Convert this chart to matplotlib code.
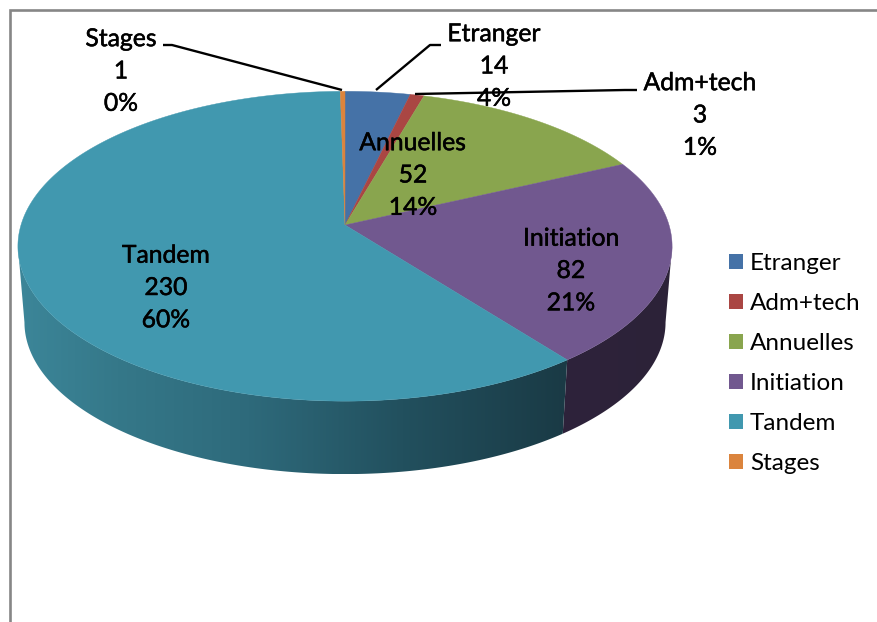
import numpy as np
import matplotlib
matplotlib.use("Agg")
import matplotlib.pyplot as plt
import matplotlib.patheffects as pe
from matplotlib.patches import Patch, Polygon
from matplotlib.colors import LinearSegmentedColormap

names = ["Etranger", "Adm+tech", "Annuelles", "Initiation", "Tandem", "Stages"]
values = [14, 3, 52, 82, 230, 1]
percents = [4, 1, 14, 21, 60, 0]
colors = ["#4572a7", "#aa4643", "#89a54e", "#71588f", "#4198af", "#db843d"]
side_stops = {
    "Initiation": [(0.0, "#2e233b"), (1.0, "#2c2238")],
    "Tandem": [(0.0, "#3c8699"), (0.18, "#357889"), (0.42, "#2e6a7b"), (0.7, "#22505e"), (1.0, "#1a3a45")],
}

plt.rcParams["font.family"] = ["Lato", "DejaVu Sans"]
W, H = 877, 622
fig = plt.figure(figsize=(W / 100, H / 100), dpi=100, facecolor="white")
ax = fig.add_axes([0, 0, 1, 1])

# perspective projection of the pie disc
CX, CY, A, B, K = 345.0, 225.0, 324.0, 152.0, 0.137
DROP, SHRINK = 76.5, 0.98


def project(theta, lower=False):
    x, y = np.sin(theta), np.cos(theta)
    w = 1 + K * y
    s = SHRINK if lower else 1.0
    return CX + s * A * x / w, CY + (DROP if lower else 0) - s * B * y / w


edges = np.cumsum([0] + values) / sum(values) * 2 * np.pi
vis_from = np.arccos(-K)
vis_to = 2 * np.pi - vis_from

# side walls: only the part between the two silhouette angles shows
for i, name in enumerate(names):
    if name not in side_stops:
        continue
    t = np.linspace(max(edges[i], vis_from), min(edges[i + 1], vis_to), 400)
    x1, y1 = project(t)
    x2, y2 = project(t[::-1], lower=True)
    px, py = np.r_[x1, x2], np.r_[y1, y2]
    cmap = LinearSegmentedColormap.from_list(name, side_stops[name])
    grad = np.linspace(0, 1, 256)[None, :]
    im = ax.imshow(grad, cmap=cmap, aspect="auto", zorder=2, interpolation="bilinear",
                   extent=(px.min(), px.max(), py.max(), py.min()))
    im.set_clip_path(Polygon(np.c_[px, py], closed=True, transform=ax.transData))

# top faces
for i, col in enumerate(colors):
    t = np.linspace(edges[i], edges[i + 1], max(int(values[i] * 4), 12))
    x, y = project(t)
    ax.fill(np.r_[CX, x], np.r_[CY, y], fc=col, ec=col, lw=0.3, zorder=3)

# frame
ax.plot([9.5, 9.5, W], [H, 10, 10], color="#868686", lw=1.9, solid_joinstyle="miter", zorder=1)

# labels
label_pos = {
    "Etranger": (494, 66),
    "Adm+tech": (700, 115),
    "Annuelles": (413, 175),
    "Initiation": (571, 270.5),
    "Tandem": (166, 287.5),
    "Stages": (121, 71),
}
for n, v, p in zip(names, values, percents):
    lx, ly = label_pos[n]
    ax.text(lx, ly, f"{n}\n{v}\n{p}%", ha="center", va="center", fontsize=17.8,
            linespacing=1.49, color="black", zorder=6,
            path_effects=[pe.withStroke(linewidth=0.35, foreground="black")])

# leader lines
leaders = {
    "Stages": ([163, 172, 342], [45, 45, 90]),
    "Etranger": ([376, 430, 441], [90, 45, 45]),
    "Adm+tech": ([415, 625, 637], [94, 90, 90]),
}
for xs, ys in leaders.values():
    ax.plot(xs, ys, color="black", lw=1.7, zorder=5, solid_capstyle="butt")

# legend
handles = [Patch(fc=c, ec=c, lw=0, label=n) for n, c in zip(names, colors)]
ax.legend(handles=handles, loc="center left", bbox_to_anchor=(724 / W, 1 - 363.5 / H), frameon=False,
          fontsize=17.5, handlelength=0.58, handleheight=0.58, handletextpad=0.29, labelspacing=0.785,
          borderpad=0.2, borderaxespad=0)

ax.set_xlim(0, W)
ax.set_ylim(H, 0)
ax.axis("off")

fig.savefig("out.png", dpi=100, facecolor="white")
